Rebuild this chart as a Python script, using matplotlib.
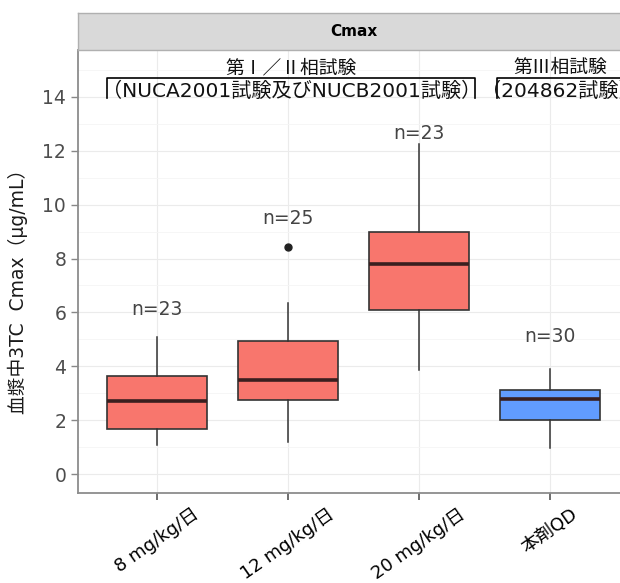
import matplotlib

matplotlib.use("Agg")
import matplotlib.pyplot as plt

plt.rcParams["font.family"] = ["DejaVu Sans", "Noto Sans CJK JP"]
CJK_FIRST = ["Noto Sans CJK JP", "DejaVu Sans"]

# box statistics (ug/mL)
groups = ["8 mg/kg/日", "12 mg/kg/日", "20 mg/kg/日", "本剤QD"]
whisker_low = [1.08, 1.20, 3.86, 0.98]
q1 = [1.67, 2.75, 6.09, 2.00]
median = [2.72, 3.50, 7.79, 2.78]
q3 = [3.65, 4.94, 9.00, 3.12]
whisker_high = [5.10, 6.36, 12.24, 3.90]
outliers = [[], [8.44], [], []]
n_labels = ["n=23", "n=25", "n=23", "n=30"]
n_label_y = [6.10, 9.47, 12.65, 5.09]

study_titles = ["第Ⅰ／Ⅱ相試験", "第Ⅲ相試験"]
study_subtitles = ["（NUCA2001試験及びNUCB2001試験）", "（204862試験）"]
study_spans = [(0.62, 3.43), (3.595, 4.56)]

RED = "#F8766D"
BLUE = "#619CFF"
box_colors = [RED, RED, RED, BLUE]

W, H = 620, 583
fig = plt.figure(figsize=(W / 100, H / 100), dpi=100)

# panel runs past the right edge of the picture, as in the cropped reference
left, right, bottom, top = 78, 630, 492.7, 50
ax = fig.add_axes([left / W, (H - bottom) / H, (right - left) / W, (bottom - top) / H])
strip = fig.add_axes([left / W, (H - top) / H, (right - left) / W, 37 / H])

positions = list(range(1, len(groups) + 1))
stats = []
for i, name in enumerate(groups):
    stats.append({
        "label": name,
        "whislo": whisker_low[i],
        "q1": q1[i],
        "med": median[i],
        "q3": q3[i],
        "whishi": whisker_high[i],
        "fliers": outliers[i],
    })

parts = ax.bxp(
    stats,
    positions=positions,
    widths=0.76,
    patch_artist=True,
    showcaps=False,
    boxprops={"edgecolor": "#333333", "linewidth": 1.2},
    whiskerprops={"color": "#333333", "linewidth": 1.1},
    medianprops={"color": "#3a1f1f", "linewidth": 2.6},
    flierprops={"marker": "o", "markerfacecolor": "#222222", "markeredgecolor": "#222222", "markersize": 5},
    zorder=3,
)
for patch, color in zip(parts["boxes"], box_colors):
    patch.set_facecolor(color)

for x, label, y in zip(positions, n_labels, n_label_y):
    ax.text(x, y, label, ha="center", va="center", fontsize=13.5, color="#444444")

# study brackets above the boxes
for (x0, x1), title, sub in zip(study_spans, study_titles, study_subtitles):
    xc = (x0 + x1) / 2
    ax.plot([x0, x0, x1, x1], [13.96, 14.70, 14.70, 13.96], color="black", lw=1.2, clip_on=False)
    ax.text(xc, 15.08, title, ha="center", va="center", fontsize=13.5, color="#111111", family=CJK_FIRST)
    ax.text(xc, 14.22, sub, ha="center", va="center", fontsize=14.5, color="#111111")

ax.set_xlim(0.397, 4.61)
ax.set_ylim(-0.694, 15.74)
ax.set_yticks(range(0, 15, 2))
ax.set_yticks(range(1, 16, 2), minor=True)
ax.set_xticks(positions)
ax.set_xticklabels(groups, rotation=35, ha="center", fontsize=13, color="black")
ax.tick_params(axis="y", labelsize=13.5, labelcolor="#4D4D4D", color="#888888", length=5, width=1)
ax.tick_params(axis="x", color="#555555", length=5, width=1.2, pad=4)
ax.tick_params(axis="y", which="minor", length=0)

ax.grid(True, which="major", color="#EBEBEB", lw=0.8, zorder=0)
ax.grid(True, which="minor", axis="y", color="#F5F5F5", lw=0.6, zorder=0)
ax.set_axisbelow(True)
for side in ["top", "right"]:
    ax.spines[side].set_visible(False)
for side in ["left", "bottom"]:
    ax.spines[side].set_color("#8C8C8C")
    ax.spines[side].set_linewidth(1.3)

ax.set_ylabel("血漿中3TC  Cmax（μg/mL）", fontsize=13.5, color="#1a1a1a")
ax.yaxis.set_label_coords(-0.0906, 0.465)

strip.set_facecolor("#D9D9D9")
strip.set_xticks([])
strip.set_yticks([])
for spine in strip.spines.values():
    spine.set_color("#B0B0B0")
    spine.set_linewidth(1.0)
strip.text(0.5, 0.5, "Cmax", ha="center", va="center", fontsize=11, fontweight="bold", transform=strip.transAxes)

fig.savefig("out.png", dpi=100)
